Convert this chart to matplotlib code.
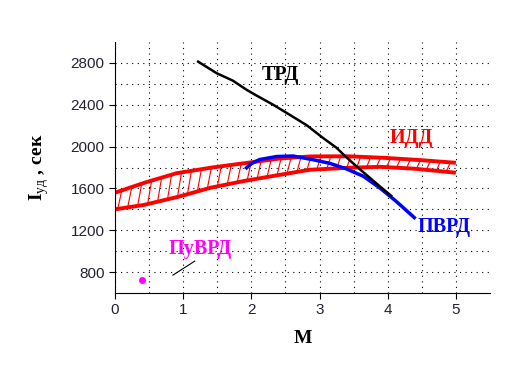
import numpy as np
import matplotlib
matplotlib.use('Agg')
import matplotlib.pyplot as plt

# ТРД (black)
trd_m = [1.22, 1.49, 1.73, 1.93, 2.07, 2.32, 2.56, 2.81, 3.05, 3.25, 3.37, 3.54, 3.88, 4.05]
trd_i = [2812, 2702, 2630, 2543, 2490, 2400, 2305, 2205, 2083, 1988, 1912, 1812, 1622, 1530]

# ПВРД (blue)
pvrd_m = [1.93, 1.98, 2.12, 2.37, 2.61, 2.90, 3.15, 3.39, 3.64, 3.88, 4.12, 4.39]
pvrd_i = [1797, 1830, 1876, 1905, 1910, 1875, 1840, 1788, 1717, 1607, 1479, 1321]

# ИДД band (red)
idd_m = [0.0, 0.41, 0.90, 1.39, 1.88, 2.37, 2.85, 3.39, 3.88, 4.37, 5.0]
idd_hi = [1559, 1650, 1745, 1797, 1840, 1884, 1906, 1908, 1895, 1876, 1845]
idd_lo = [1400, 1440, 1515, 1605, 1670, 1724, 1778, 1797, 1807, 1790, 1750]

# ПуВРД (single point)
puvrd_m = [0.4]
puvrd_i = [720]

plt.rcParams['font.family'] = 'Liberation Sans'
plt.rcParams['mathtext.fontset'] = 'custom'
plt.rcParams['mathtext.bf'] = 'Liberation Serif:bold'
plt.rcParams['mathtext.rm'] = 'Liberation Serif'

fig = plt.figure(figsize=(5.12, 3.77), dpi=100)
ax = fig.add_axes([0.2246, 0.2228, 0.7324, 0.6658])

ax.set_xlim(0, 5.5)
ax.set_ylim(600, 3000)
ax.set_xticks([0, 1, 2, 3, 4, 5])
ax.set_xticks(np.arange(0.5, 5.5, 1.0), minor=True)
ax.set_yticks([800, 1200, 1600, 2000, 2400, 2800])
ax.set_yticks(np.arange(1000, 3000, 400), minor=True)
ax.grid(True, which='both', color='black', linestyle=(0, (1, 4)), linewidth=0.8)
for s in ['top', 'right']:
    ax.spines[s].set_visible(False)
ax.tick_params(which='major', length=4, labelsize=11, colors='black',
               labelcolor='#222233')
ax.tick_params(which='minor', length=0)

# hatched band
mm = np.linspace(0, 5, 400)
hi = np.interp(mm, idd_m, idd_hi)
lo = np.interp(mm, idd_m, idd_lo)
for x0 in np.arange(0.04, 5.0, 0.146):
    x1 = min(x0 + 0.06, 5.0)
    ax.plot([x0, x1], [np.interp(x0, idd_m, idd_lo), np.interp(x1, idd_m, idd_hi)],
            color='red', linewidth=0.8)
ax.plot(mm, hi, color='red', linewidth=2.8, solid_capstyle='butt')
ax.plot(mm, lo, color='red', linewidth=2.8, solid_capstyle='butt')

ax.plot(pvrd_m, pvrd_i, color='blue', linewidth=2.5)
ax.plot(trd_m, trd_i, color='black', linewidth=1.8)
ax.plot(puvrd_m, puvrd_i, 'o', color='magenta', markersize=4)
ax.plot([0.85, 1.17], [771, 905], color='black', linewidth=0.8)

lbl = dict(family='Liberation Serif', fontweight='bold', fontsize=14.5, va='center')
ax.text(2.15, 2686, 'ТРД', color='black', **lbl)
ax.text(4.03, 2086, 'ИДД', color='red', **lbl)
ax.text(4.44, 1229, 'ПВРД', color='blue', **lbl)
ax.text(0.78, 1019, 'ПуВРД', color='magenta', **lbl)

ax.set_xlabel('M', family='Liberation Serif', fontweight='bold', fontsize=14, labelpad=9)
ax.set_ylabel(r'$\mathbf{I}_{\mathrm{уд}}$ , сек', family='Liberation Serif',
              fontweight='bold', fontsize=14, labelpad=14)

fig.savefig('out.png', dpi=100)
